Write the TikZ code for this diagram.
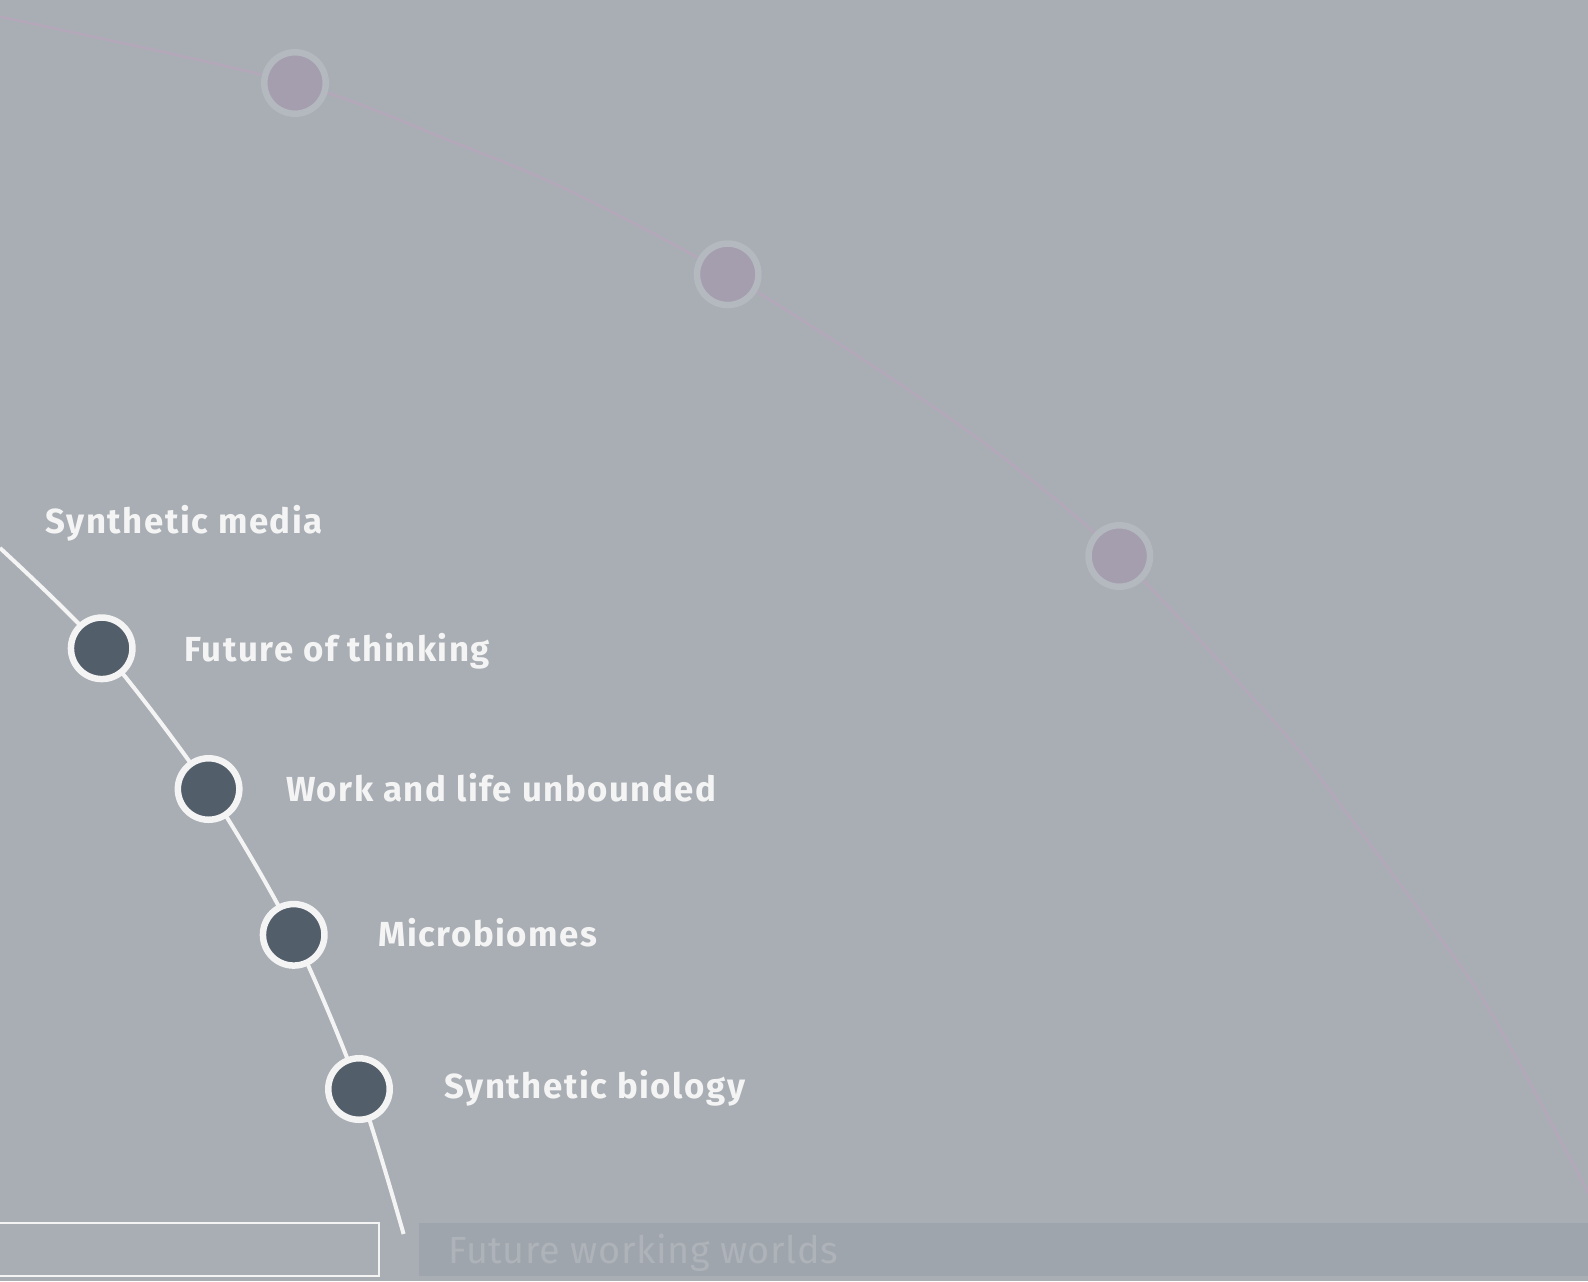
\documentclass[tikz,border=0pt]{standalone}
\usepackage{fontspec}
\setmainfont{Fira Sans}
\newfontfamily\labelfont[LetterSpace=4.5]{Fira Sans}
\newfontfamily\bandfont[LetterSpace=1.5]{Fira Sans}
\definecolor{bgcol}{HTML}{A8AEB4}
\definecolor{bandcol}{HTML}{9FA5AC}
\definecolor{bandtext}{HTML}{AEB3BA}
\definecolor{mauvefill}{HTML}{A59EAE}
\definecolor{mauvering}{HTML}{B4B8BF}
\definecolor{mauveline}{HTML}{B5A7BA}
\definecolor{darkfill}{HTML}{525E6A}
\definecolor{whiteish}{HTML}{F4F4F4}
\begin{document}
\begin{tikzpicture}[x=0.5pt,y=-0.5pt,
  darkdot/.style={circle,fill=darkfill,draw=whiteish,line width=3.25pt,minimum size=30.75pt,inner sep=0pt},
  mauvedot/.style={circle,fill=mauvefill,draw=mauvering,line width=3.25pt,minimum size=30.75pt,inner sep=0pt},
  toplabel/.style={anchor=base west,inner sep=0pt,text=whiteish,font=\labelfont\bfseries\fontsize{17.4}{20}\selectfont},
  whitearc/.style={draw=whiteish,line width=2pt},
  mauvearc/.style={draw=mauveline,line width=1.25pt},
  framebox/.style={draw=whiteish,line width=1pt}]
\useasboundingbox (0,0) rectangle (1588,1281);
\clip (0,0) rectangle (1588,1281);
\fill[bgcol] (0,0) rectangle (1588,1281);

% outer mauve arc
\coordinate (m0) at (0,16.7);
\coordinate (ma) at (450,140.7);
\coordinate (mb) at (570,191);
\coordinate (mc) at (880,370.7);
\coordinate (md) at (1000,455);
\coordinate (me) at (1280,728.3);
\coordinate (mf) at (1351.7,820);
\coordinate (mg) at (1468,976.7);
\coordinate (mh) at (1517.3,1060);
\coordinate (m9) at (1590,1196);
\coordinate (p1) at (295,83);
\coordinate (p2) at (727.7,274.3);
\coordinate (p3) at (1119.3,556);
\draw[mauvearc] plot[smooth] coordinates {(m0) (p1) (ma) (mb) (p2) (mc) (md) (p3) (me) (mf) (mg) (mh) (m9)};
\node[mauvedot] (q1) at (p1) {};
\node[mauvedot] (q2) at (p2) {};
\node[mauvedot] (q3) at (p3) {};

% inner white arc
\coordinate (w0) at (0,548);
\coordinate (n1c) at (101.7,648.3);
\coordinate (n2c) at (208.6,789);
\coordinate (n3c) at (293.7,934.8);
\coordinate (n4c) at (359,1089);
\coordinate (wend) at (403.6,1234);
\draw[whitearc] plot[smooth] coordinates {(w0) (n1c) (n2c) (n3c) (n4c) (wend)};
\node[darkdot] (n1) at (n1c) {};
\node[darkdot] (n2) at (n2c) {};
\node[darkdot] (n3) at (n3c) {};
\node[darkdot] (n4) at (n4c) {};

% labels
\node[toplabel] (l0) at (45,533.3) {Synthetic media};
\node[toplabel] (l1) at (184.3,661) {Future of thinking};
\node[toplabel] (l2) at (285.6,801) {Work and life unbounded};
\node[toplabel] (l3) at (377.8,946.8) {Microbiomes};
\node[toplabel] (l4) at (444,1098.3) {Synthetic biology};

% bottom elements
\draw[framebox] (-5,1222.5) rectangle (379,1276);
\fill[bandcol] (419,1223) rectangle (1600,1276);
\node[anchor=base west,inner sep=0pt,text=bandtext,font=\bandfont\fontsize{18.9}{22}\selectfont] (band) at (448,1263) {Future working worlds};
\end{tikzpicture}
\end{document}
